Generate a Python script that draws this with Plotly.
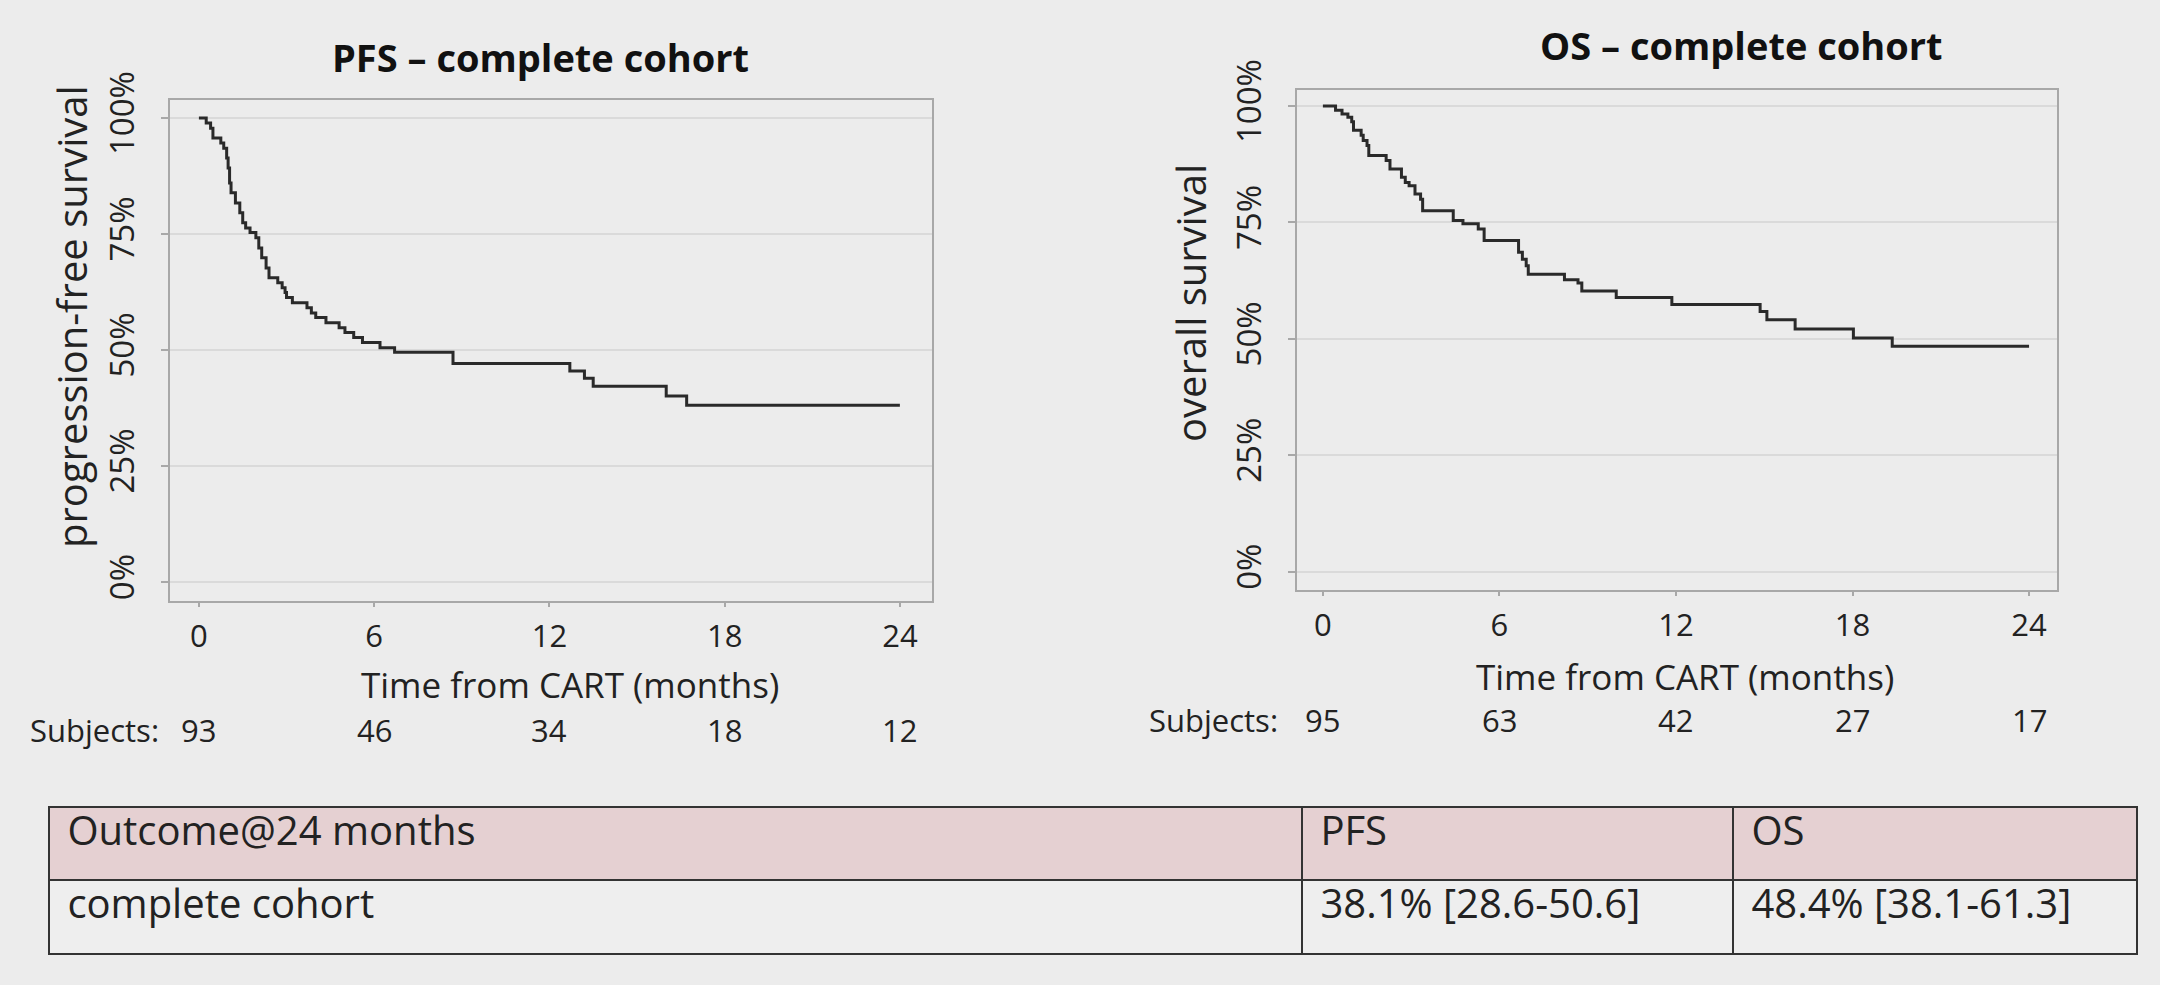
import plotly.graph_objects as go

# ---- Kaplan-Meier estimates (months, survival %) ----
PFS_TIME = [0.25, 0.40, 0.48, 0.75, 0.85, 0.95, 1.00, 1.05, 1.10, 1.25, 1.40, 1.50,
            1.60, 1.75, 1.95, 2.05, 2.15, 2.30, 2.40, 2.70, 2.85, 2.95, 3.00, 3.20,
            3.70, 3.85, 4.00, 4.35, 4.80, 5.00, 5.30, 5.60, 6.20, 6.70, 8.70, 12.70,
            13.20, 13.50, 16.00, 16.70]
PFS_SURV = [98.9, 97.8, 95.7, 94.6, 93.5, 91.4, 89.2, 86.0, 83.9, 81.7, 79.6, 77.4,
            76.3, 75.3, 74.2, 72.0, 69.9, 67.7, 65.6, 64.5, 63.4, 62.4, 61.3, 60.2,
            59.1, 58.0, 57.0, 55.9, 54.8, 53.8, 52.7, 51.6, 50.5, 49.5, 47.1, 45.5,
            43.9, 42.2, 40.1, 38.1]

OS_TIME = [0.43, 0.65, 0.85, 0.98, 1.04, 1.30, 1.37, 1.50, 1.56, 2.15, 2.28, 2.67,
           2.80, 2.93, 3.13, 3.32, 3.39, 4.43, 4.76, 5.28, 5.48, 6.65, 6.78, 6.91,
           6.98, 8.21, 8.67, 8.80, 9.97, 11.86, 14.86, 15.09, 16.05, 18.03, 19.35]
OS_SURV = [99.1, 98.3, 97.6, 96.6, 94.8, 93.7, 92.6, 91.5, 89.4, 88.3, 86.5, 84.7,
           83.6, 82.9, 81.1, 80.0, 77.5, 75.4, 74.7, 73.6, 71.1, 68.6, 67.1, 65.7,
           63.9, 62.7, 62.0, 60.3, 58.9, 57.4, 55.9, 54.1, 52.1, 50.2, 48.4]

FOLLOW_UP_END = 24

# ---- axis ticks and numbers at risk ----
X_TICKS = [0, 6, 12, 18, 24]
Y_TICKS = [0, 25, 50, 75, 100]
Y_TICK_TEXT = ["0%", "25%", "50%", "75%", "100%"]
PFS_AT_RISK = [93, 46, 34, 18, 12]
OS_AT_RISK = [95, 63, 42, 27, 17]

# ---- summary table ----
TABLE_HEADER = ["Outcome@24 months", "PFS", "OS"]
TABLE_ROW = ["complete cohort", "38.1% [28.6-50.6]", "48.4% [38.1-61.3]"]

W, H = 2160, 985
FONT = "Open Sans"
INK = "#222222"
BG = "#ececec"
FRAME = "#a8a8a8"
GRID = "#dadada"


def px_x(p):
    return p / W


def px_y(p):
    return 1 - p / H


def km_steps(times, surv):
    xs = [0] + list(times) + [FOLLOW_UP_END]
    ys = [100] + list(surv) + [surv[-1]]
    return xs, ys


fig = go.Figure()

x1, y1 = km_steps(PFS_TIME, PFS_SURV)
fig.add_trace(go.Scatter(x=x1, y=y1, mode="lines", line_shape="hv",
                         line=dict(color="#2a2a2a", width=3),
                         xaxis="x", yaxis="y", showlegend=False, hoverinfo="skip"))
x2, y2 = km_steps(OS_TIME, OS_SURV)
fig.add_trace(go.Scatter(x=x2, y=y2, mode="lines", line_shape="hv",
                         line=dict(color="#2a2a2a", width=3),
                         xaxis="x2", yaxis="y2", showlegend=False, hoverinfo="skip"))

fig.add_trace(go.Table(
    domain=dict(x=[px_x(49), px_x(2137)], y=[px_y(962), px_y(807)]),
    columnwidth=[1253, 431, 404],
    header=dict(values=[" " + v for v in TABLE_HEADER], align="left", height=73,
                fill_color="#e5d0d2", line=dict(color="#333333", width=2),
                font=dict(family=FONT, size=40, color=INK)),
    cells=dict(values=[[" " + v] for v in TABLE_ROW], align="left", height=74,
               fill_color="#eeeeee", line=dict(color="#333333", width=2),
               font=dict(family=FONT, size=40, color=INK)),
))

xaxis_common = dict(
    tickvals=X_TICKS, ticktext=[str(v) for v in X_TICKS],
    ticks="outside", ticklen=4, tickcolor=FRAME, tickwidth=1.5,
    tickfont=dict(family=FONT, size=31, color=INK),
    showgrid=False, zeroline=False, automargin=False,
    showline=True, linecolor=FRAME, linewidth=2, mirror=True,
    ticklabelstandoff=3,
)
yaxis_common = dict(
    tickvals=Y_TICKS, ticktext=Y_TICK_TEXT, tickangle=-90,
    ticks="outside", ticklen=7, tickcolor=FRAME, tickwidth=1.5,
    tickfont=dict(family=FONT, size=33, color=INK),
    showgrid=True, gridcolor=GRID, gridwidth=1.5, zeroline=False, automargin=False,
    showline=True, linecolor=FRAME, linewidth=2, mirror=True,
    ticklabelstandoff=14,
)

fig.update_layout(
    width=W, height=H,
    margin=dict(l=0, r=0, t=0, b=0, autoexpand=False),
    paper_bgcolor=BG, plot_bgcolor=BG,
    xaxis=dict(domain=[px_x(170), px_x(932)], range=[-0.99, 25.1], anchor="y", **xaxis_common),
    yaxis=dict(domain=[px_y(601), px_y(100)], range=[-4.09, 103.88], anchor="x", **yaxis_common),
    xaxis2=dict(domain=[px_x(1297), px_x(2057)], range=[-0.88, 24.95], anchor="y2", **xaxis_common),
    yaxis2=dict(domain=[px_y(590), px_y(90)], range=[-3.93, 103.44], anchor="x2", **yaxis_common),
)

ann = []
# titles
ann.append(dict(text="<b>PFS – complete cohort</b>", x=px_x(540), y=px_y(57),
                font=dict(family=FONT, size=38, color="#111111")))
ann.append(dict(text="<b>OS – complete cohort</b>", x=px_x(1741), y=px_y(45),
                font=dict(family=FONT, size=38, color="#111111")))
# y axis titles
ann.append(dict(text="progression-free survival", textangle=-90, x=px_x(71), y=px_y(317),
                font=dict(family=FONT, size=40, color=INK)))
ann.append(dict(text="overall survival", textangle=-90, x=px_x(1190), y=px_y(303),
                font=dict(family=FONT, size=40, color=INK)))
# x axis titles
ann.append(dict(text="Time from CART (months)", x=px_x(570), y=px_y(684),
                font=dict(family=FONT, size=35, color=INK)))
ann.append(dict(text="Time from CART (months)", x=px_x(1685), y=px_y(676),
                font=dict(family=FONT, size=35, color=INK)))
# numbers at risk
ann.append(dict(text="Subjects:", x=px_x(28), y=px_y(730), xanchor="left",
                font=dict(family=FONT, size=31, color=INK)))
ann.append(dict(text="Subjects:", x=px_x(1147), y=px_y(720), xanchor="left",
                font=dict(family=FONT, size=31, color=INK)))
for xv, n in zip(X_TICKS, PFS_AT_RISK):
    ann.append(dict(text=str(n), x=xv, xref="x", y=px_y(730),
                    font=dict(family=FONT, size=31, color=INK)))
for xv, n in zip(X_TICKS, OS_AT_RISK):
    ann.append(dict(text=str(n), x=xv, xref="x2", y=px_y(720),
                    font=dict(family=FONT, size=31, color=INK)))

for a in ann:
    a.setdefault("xref", "paper")
    a.setdefault("yref", "paper")
    a.setdefault("xanchor", "center")
    a.setdefault("yanchor", "middle")
    a["showarrow"] = False
fig.update_layout(annotations=ann)

fig.write_html("out.html")
